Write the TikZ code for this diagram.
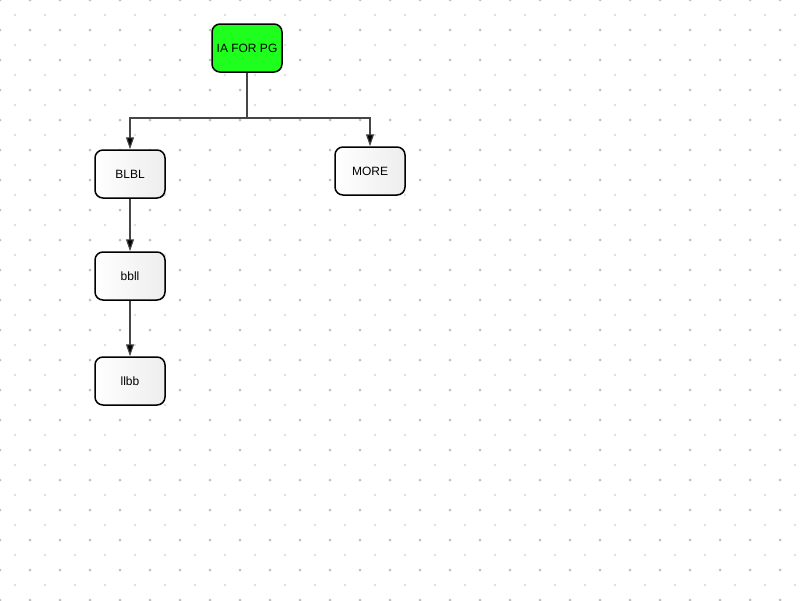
\documentclass[tikz,border=0pt]{standalone}
\usepackage{fontspec}
\setmainfont{Liberation Sans}
\usetikzlibrary{arrows.meta}
\definecolor{nodegreen}{RGB}{30,255,30}
\definecolor{bigdot}{RGB}{192,192,192}
\definecolor{smalldot}{RGB}{214,214,214}
\definecolor{linegray}{RGB}{70,70,70}
\tikzset{
  box/.style={draw=black, line width=1.5pt, rounded corners=8pt,
    minimum width=70pt, minimum height=48pt, inner sep=0pt,
    font=\fontsize{12pt}{14pt}\selectfont, text=black},
  plainbox/.style={box, left color=white, right color=black!7},
  greenbox/.style={box, fill=nodegreen},
  conn/.style={draw=linegray, line width=1.1pt,
    -{Triangle[length=12pt,width=8pt,fill=black]}},
  plainconn/.style={draw=linegray, line width=1.1pt}
}
\begin{document}
\begin{tikzpicture}[x=1pt,y=-1pt]
\useasboundingbox (0,0) rectangle (800,600);
\fill[white] (0,0) rectangle (800,600);
% dot grid
\foreach \i in {0,...,26}{
  \foreach \j in {0,...,20}{
    \fill[bigdot] (30*\i,30*\j) circle (1.5);
  }
}
\foreach \i in {0,...,26}{
  \foreach \j in {0,...,19}{
    \fill[smalldot] (15+30*\i,15+30*\j) circle (1.1);
  }
}
% nodes
\node[greenbox] (ia) at (247,48) {IA FOR PG};
\node[plainbox] (blbl) at (130,174) {BLBL};
\node[plainbox] (more) at (370,171) {MORE};
\node[plainbox] (bbll) at (130,276) {bbll};
\node[plainbox] (llbb) at (130,381) {llbb};
% connectors
\coordinate (split) at (247,118);
\draw[plainconn] (ia.south) -- (split);
\draw[conn] (split) -| (blbl.north);
\draw[conn] (split) -| (more.north);
\draw[conn] (blbl.south) -- (bbll.north);
\draw[conn] (bbll.south) -- (llbb.north);
\end{tikzpicture}
\end{document}
